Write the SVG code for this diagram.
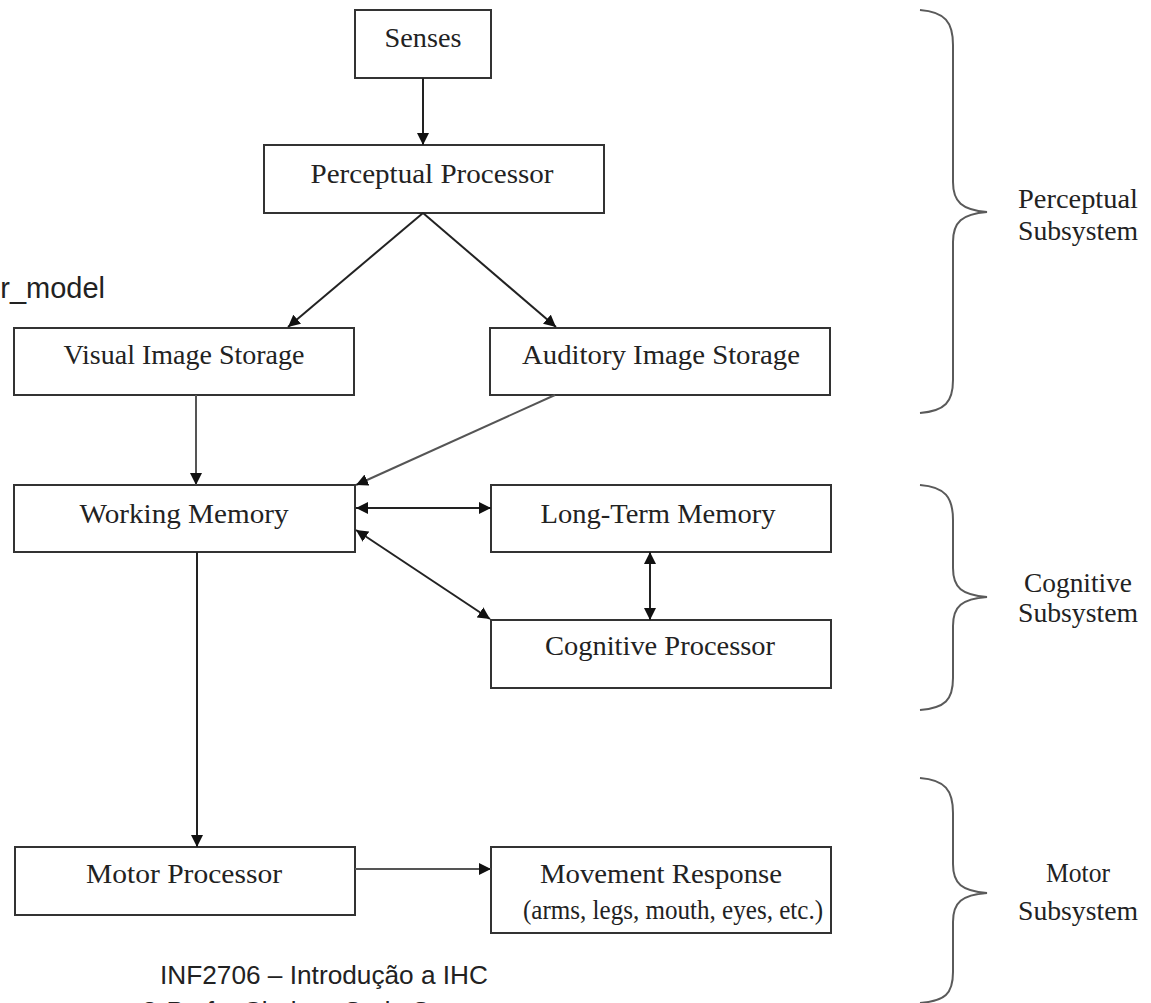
<svg xmlns="http://www.w3.org/2000/svg" width="1151" height="1003" viewBox="0 0 1151 1003">
<style>
.box{fill:#fff;stroke:#333;stroke-width:2}
.t{font-family:"Liberation Serif","Times New Roman",serif;font-size:28px;fill:#222;text-anchor:middle}
.s{font-family:"Liberation Sans",Arial,sans-serif;font-size:26px;fill:#222}
.c{stroke:#222;stroke-width:2;fill:none}
.g{stroke:#555;stroke-width:2;fill:none}
.br{stroke:#5a5a5a;stroke-width:2;fill:none}
</style>
<defs>
<marker id="ah" markerUnits="userSpaceOnUse" markerWidth="14" markerHeight="12" refX="12" refY="6" orient="auto-start-reverse">
<path d="M0,0 L12,6 L0,12 Z" fill="#111"/>
</marker>
</defs>
<rect width="1151" height="1003" fill="#fff"/>

<g id="senses"><rect class="box" x="355" y="10" width="136" height="68"/><text class="t" x="423" y="47" textLength="77" lengthAdjust="spacingAndGlyphs">Senses</text></g>
<g id="perceptual-processor"><rect class="box" x="264" y="145" width="340" height="68"/><text class="t" x="432" y="183" textLength="243" lengthAdjust="spacingAndGlyphs">Perceptual Processor</text></g>
<g id="visual-image-storage"><rect class="box" x="14" y="328" width="340" height="67"/><text class="t" x="184" y="364" textLength="241" lengthAdjust="spacingAndGlyphs">Visual Image Storage</text></g>
<g id="auditory-image-storage"><rect class="box" x="490" y="328" width="340" height="67"/><text class="t" x="661" y="364" textLength="278" lengthAdjust="spacingAndGlyphs">Auditory Image Storage</text></g>
<g id="working-memory"><rect class="box" x="14" y="485" width="341" height="67"/><text class="t" x="184" y="523" textLength="209" lengthAdjust="spacingAndGlyphs">Working Memory</text></g>
<g id="long-term-memory"><rect class="box" x="491" y="485" width="340" height="67"/><text class="t" x="658" y="523" textLength="235" lengthAdjust="spacingAndGlyphs">Long-Term Memory</text></g>
<g id="cognitive-processor"><rect class="box" x="491" y="620" width="340" height="68"/><text class="t" x="660" y="655" textLength="230" lengthAdjust="spacingAndGlyphs">Cognitive Processor</text></g>
<g id="motor-processor"><rect class="box" x="15" y="847" width="340" height="68"/><text class="t" x="184" y="883" textLength="196" lengthAdjust="spacingAndGlyphs">Motor Processor</text></g>
<g id="movement-response"><rect class="box" x="491" y="847" width="340" height="86"/><text class="t" x="661" y="883" textLength="242" lengthAdjust="spacingAndGlyphs">Movement Response</text><text class="t" x="673" y="919" textLength="300" lengthAdjust="spacingAndGlyphs">(arms, legs, mouth, eyes, etc.)</text></g>

<g id="connectors">
<line class="c" x1="423" y1="78" x2="423" y2="145" marker-end="url(#ah)"/>
<line class="c" x1="423" y1="213" x2="288" y2="327" marker-end="url(#ah)"/>
<line class="c" x1="423" y1="213" x2="556" y2="327" marker-end="url(#ah)"/>
<line class="g" x1="196" y1="395" x2="196" y2="485" marker-end="url(#ah)"/>
<line class="g" x1="555" y1="395" x2="356" y2="485" marker-end="url(#ah)"/>
<line class="c" x1="356" y1="508" x2="491" y2="508" marker-start="url(#ah)" marker-end="url(#ah)"/>
<line class="c" x1="356" y1="530" x2="490" y2="619" marker-start="url(#ah)" marker-end="url(#ah)"/>
<line class="c" x1="650" y1="552" x2="650" y2="620" marker-start="url(#ah)" marker-end="url(#ah)"/>
<line class="c" x1="197" y1="552" x2="197" y2="847" marker-end="url(#ah)"/>
<line class="g" x1="355" y1="869" x2="491" y2="869" marker-end="url(#ah)"/>
</g>

<g id="perceptual-subsystem">
<path class="br" d="M920,10 C945,12 953,22 953,45 L953,182 C953,202 962,210 987,212 C962,214 953,222 953,242 L953,380 C953,402 945,411 920,413"/>
<text class="t" x="1078" y="208" textLength="120" lengthAdjust="spacingAndGlyphs">Perceptual</text>
<text class="t" x="1078" y="240" textLength="120" lengthAdjust="spacingAndGlyphs">Subsystem</text>
</g>
<g id="cognitive-subsystem">
<path class="br" d="M920,485 C945,487 953,497 953,520 L953,568 C953,588 962,595 987,597 C962,599 953,606 953,626 L953,678 C953,700 945,708 920,710"/>
<text class="t" x="1078" y="592" textLength="108" lengthAdjust="spacingAndGlyphs">Cognitive</text>
<text class="t" x="1078" y="622" textLength="120" lengthAdjust="spacingAndGlyphs">Subsystem</text>
</g>
<g id="motor-subsystem">
<path class="br" d="M920,778 C945,780 953,790 953,813 L953,864 C953,884 962,891 987,893 C962,895 953,902 953,922 L953,972 C953,994 945,1001 920,1003"/>
<text class="t" x="1078" y="882" textLength="64" lengthAdjust="spacingAndGlyphs">Motor</text>
<text class="t" x="1078" y="920" textLength="120" lengthAdjust="spacingAndGlyphs">Subsystem</text>
</g>

<text class="s" x="105" y="298" text-anchor="end" style="font-size:29px">r_model</text>
<text class="s" x="160" y="984" textLength="328" lengthAdjust="spacingAndGlyphs">INF2706 – Introdução a IHC</text>
<text class="s" x="140" y="1020">© Profa. Clarisse S. de Souza</text>
</svg>
